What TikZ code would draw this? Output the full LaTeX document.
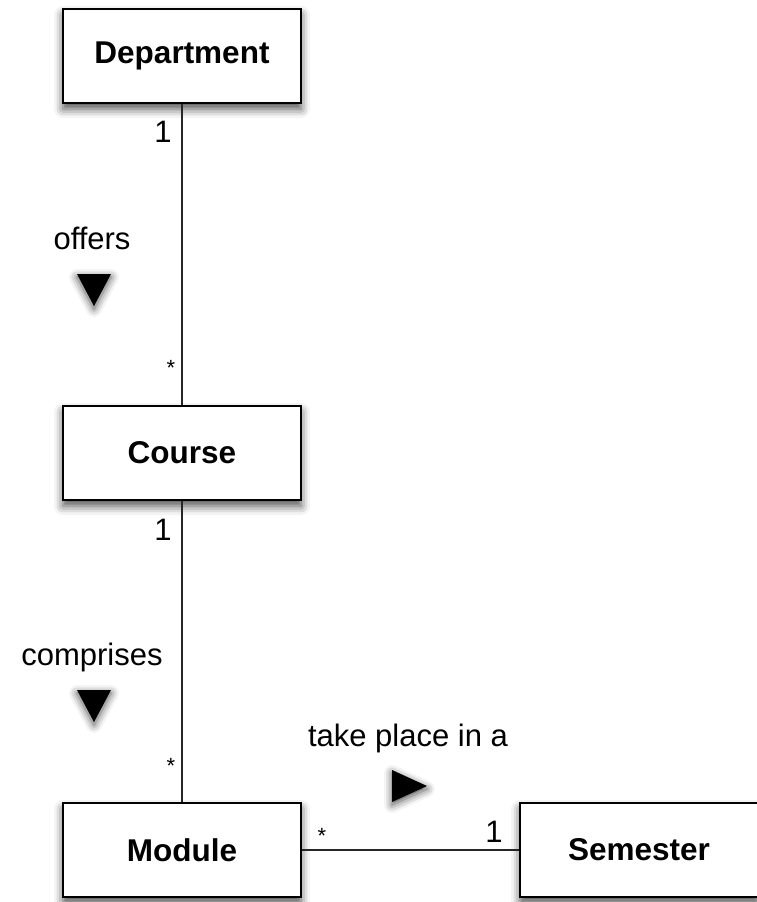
\documentclass[tikz,border=0pt]{standalone}
\usepackage{fontspec}
\setmainfont{Liberation Sans}
\usetikzlibrary{shadows.blur}
\begin{document}
\begin{tikzpicture}[x=1pt,y=-1pt,
  classbox/.style={draw=black, line width=2pt, fill=white,
    minimum width=238pt, minimum height=94pt, inner sep=0pt,
    font=\fontsize{31.5}{36}\selectfont\bfseries,
    blur shadow={shadow xshift=0pt, shadow yshift=-6pt,
      shadow blur radius=9pt, shadow opacity=70}},
  assoc/.style={draw=black!85, line width=2pt},
  lbl/.style={inner sep=0pt, font=\fontsize{31}{36}\selectfont},
  mult/.style={inner sep=0pt, font=\fontsize{31}{36}\selectfont},
  star/.style={inner sep=0pt, font=\fontsize{22}{26}\selectfont},
  dirmark/.style={fill=black, draw=none,
    blur shadow={shadow xshift=0pt, shadow yshift=-3pt,
      shadow blur radius=8pt, shadow opacity=70}}
]
\useasboundingbox (0,0) rectangle (757,902);

% classes
\node[classbox] (dept) at (182,56) {Department};
\node[classbox] (course) at (182,453) {Course};
\node[classbox] (module) at (182,850) {Module};
\node[classbox] (sem) at (639,850) {Semester};

% associations
\draw[assoc] (dept.south) -- (course.north);
\draw[assoc] (course.south) -- (module.north);
\draw[assoc] (module.east) -- (sem.west);

% multiplicities
\node[mult] (m1) at (163,132) {1};
\node[star] (m2) at (171,368) {*};
\node[mult] (m3) at (163,530) {1};
\node[star] (m4) at (171,766) {*};
\node[star] (m5) at (322,836) {*};
\node[mult] (m6) at (494,832) {1};

% association names
\node[lbl] (offers) at (92,238) {offers};
\node[lbl] (comprises) at (92,657) {comprises};
\node[lbl] (takes) at (408,738) {take place in a};

% reading direction markers
\path[dirmark] (77,274) -- (111,274) -- (94,306) -- cycle;
\path[dirmark] (77,690) -- (111,690) -- (94,722) -- cycle;
\path[dirmark] (392,770) -- (427,786) -- (392,802) -- cycle;
\end{tikzpicture}
\end{document}
